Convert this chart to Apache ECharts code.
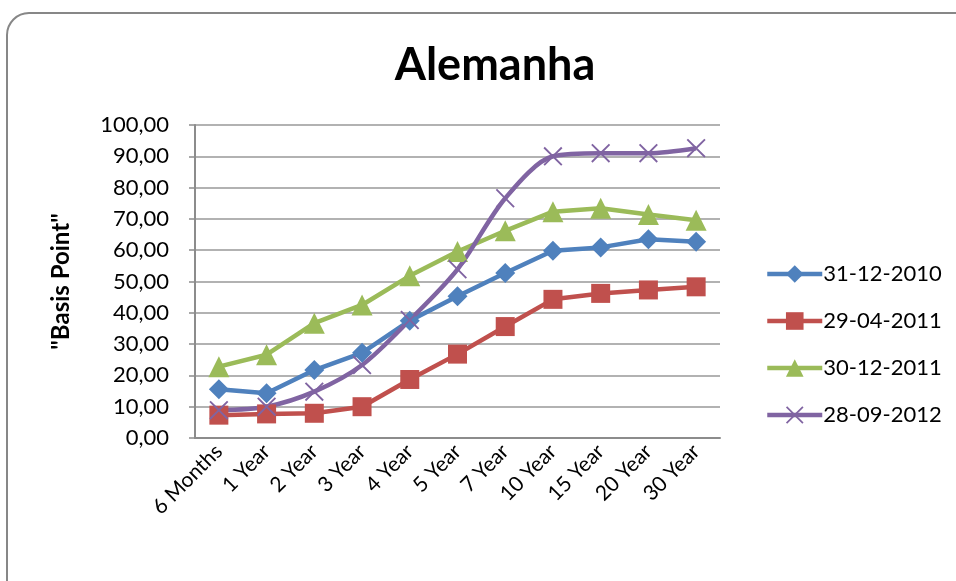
<!DOCTYPE html>
<html>
<head>
<meta charset="utf-8">
<script src="https://cdn.jsdelivr.net/npm/echarts@6/dist/echarts.min.js"></script>
<style>
  html, body { margin: 0; padding: 0; background: #fff; }
  #chart { width: 956px; height: 581px; }
</style>
</head>
<body>
<div id="chart"></div>
<script>
// categorias
var maturities = ['6 Months', '1 Year', '2 Year', '3 Year', '4 Year', '5 Year', '7 Year', '10 Year', '15 Year', '20 Year', '30 Year'];
// séries
var s20101231 = [15.6, 14.3, 21.7, 27.2, 37.5, 45.3, 52.7, 59.8, 60.9, 63.5, 62.7];
var s20110429 = [7.3, 7.7, 7.9, 10.0, 18.7, 26.8, 35.6, 44.3, 46.2, 47.3, 48.3];
var s20111230 = [22.8, 26.6, 36.7, 42.5, 51.8, 59.6, 66.2, 72.3, 73.4, 71.4, 69.6];
var s20120928 = [8.9, 10.0, 14.8, 23.3, 37.7, 53.9, 76.6, 90.0, 91.0, 91.0, 92.6];
var seriesNames = ['31-12-2010', '29-04-2011', '30-12-2011', '28-09-2012'];
var colors = ['#4F81BD', '#C0504D', '#9BBB59', '#8064A2'];

var font = 'Lato, "Open Sans", sans-serif';
var xMark = 'path://M0,0.7L0.7,0L5,4.3L9.3,0L10,0.7L5.7,5L10,9.3L9.3,10L5,5.7L0.7,10L0,9.3L4.3,5Z';

var chart = echarts.init(document.getElementById('chart'));

function mkLine(name, data, color, symbol, size, smooth) {
    return {
        name: name,
        type: 'line',
        data: data,
        smooth: smooth,
        symbol: symbol,
        symbolSize: size,
        showSymbol: true,
        lineStyle: { color: color, width: 4.5 },
        itemStyle: { color: color },
        emphasis: { disabled: true }
    };
}

var legendData = seriesNames.map(function (n, i) {
    return { name: n, lineStyle: { width: 4.5, color: colors[i] } };
});

var option = {
    animation: false,
    textStyle: { fontFamily: font },
    graphic: [{
        type: 'rect',
        shape: { x: 7, y: 13, width: 980, height: 600, r: 22 },
        style: { fill: 'none', stroke: '#878787', lineWidth: 2 },
        z: -1
    }],
    title: {
        text: 'Alemanha',
        left: 490,
        top: 38,
        textAlign: 'center',
        textStyle: { fontFamily: font, fontSize: 45, fontWeight: 'bold', color: '#000' }
    },
    legend: {
        orient: 'vertical',
        left: 760,
        top: 258,
        itemGap: 25,
        itemWidth: 55,
        itemHeight: 22,
        textStyle: { fontFamily: font, fontSize: 22, color: '#000', padding: [0, 0, 0, -4] },
        data: legendData
    },
    grid: { left: 195, right: 236, top: 125, bottom: 143 },
    xAxis: {
        type: 'category',
        data: maturities,
        boundaryGap: true,
        axisLine: { lineStyle: { color: '#8c8c8c', width: 2 } },
        axisTick: { show: false },
        axisLabel: { rotate: 45, fontSize: 21, color: '#000', margin: 10, interval: 0 }
    },
    yAxis: {
        type: 'value',
        min: 0,
        max: 100,
        interval: 10,
        name: '"Basis Point"',
        nameLocation: 'middle',
        nameGap: 122,
        nameRotate: 90,
        nameTextStyle: { fontSize: 24, fontWeight: 'bold', color: '#000' },
        axisLine: { show: true, lineStyle: { color: '#8c8c8c', width: 2 } },
        axisTick: { show: true, length: 6, lineStyle: { color: '#8c8c8c', width: 1.5 } },
        splitLine: { lineStyle: { color: '#999', width: 1.5 } },
        axisLabel: {
            fontSize: 22, color: '#000', margin: 26,
            formatter: function (v) { return v.toFixed(2).replace('.', ','); }
        }
    },
    series: [
        mkLine(seriesNames[0], s20101231, colors[0], 'diamond', 20, false),
        mkLine(seriesNames[1], s20110429, colors[1], 'rect', 19, false),
        mkLine(seriesNames[2], s20111230, colors[2], 'triangle', 21, false),
        mkLine(seriesNames[3], s20120928, colors[3], xMark, 19, 0.3)
    ]
};
chart.setOption(option);
</script>
</body>
</html>
